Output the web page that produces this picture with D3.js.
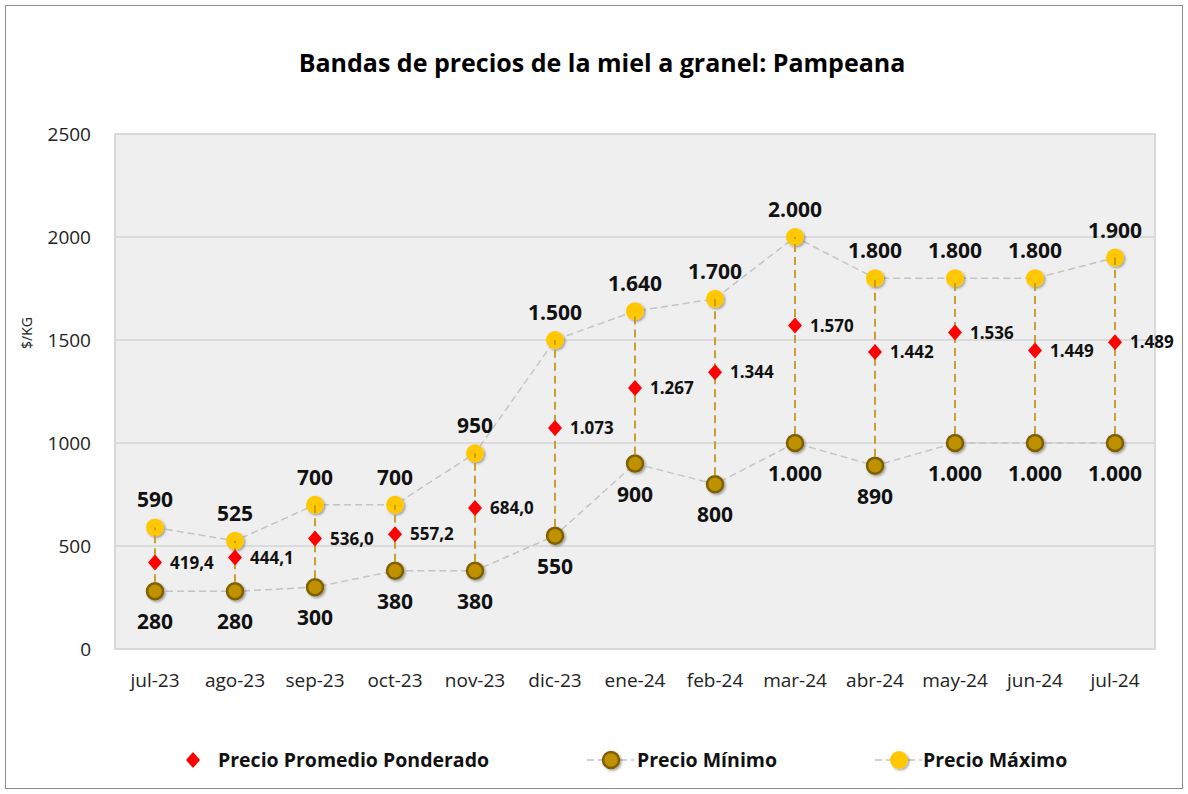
<!DOCTYPE html>
<html><head><meta charset="utf-8">
<script src="https://cdn.jsdelivr.net/npm/d3@7"></script>
<style>body{margin:0;background:#fff;} svg{display:block;}</style>
</head><body>
<svg id="c" width="1188" height="794"></svg>
<script>
const categories = ["jul-23","ago-23","sep-23","oct-23","nov-23","dic-23","ene-24","feb-24","mar-24","abr-24","may-24","jun-24","jul-24"];
const precioPromedio = [419.4,444.1,536.0,557.2,684.0,1073,1267,1344,1570,1442,1536,1449,1489];
const precioMinimo = [280,280,300,380,380,550,900,800,1000,890,1000,1000,1000];
const precioMaximo = [590,525,700,700,950,1500,1640,1700,2000,1800,1800,1800,1900];
const yTicks = [0,500,1000,1500,2000,2500];

const font = "'Open Sans', 'Noto Sans', sans-serif";
const svg = d3.select("#c");
const defs = svg.append("defs");
const f = defs.append("filter").attr("id","sh").attr("x","-50%").attr("y","-50%").attr("width","200%").attr("height","200%");
f.append("feDropShadow").attr("dx",1.5).attr("dy",1.5).attr("stdDeviation",1.2).attr("flood-color","#000").attr("flood-opacity",0.35);

svg.append("rect").attr("x",5.5).attr("y",5.5).attr("width",1177).attr("height",783).attr("fill","#fff").attr("stroke","#8c8c8c").attr("stroke-width",1);

const m = {l:115,r:1155,t:134,b:649};
const x = d3.scaleBand().domain(categories).range([m.l,m.r]);
const y = d3.scaleLinear().domain([0,2500]).range([m.b,m.t]);
const cx = d => x(d)+x.bandwidth()/2;

svg.append("rect").attr("x",m.l).attr("y",m.t).attr("width",m.r-m.l).attr("height",m.b-m.t).attr("fill","#efefef").attr("stroke","#d0d0d0").attr("stroke-width",1.5);

// gridlines
svg.append("g").selectAll("line").data(yTicks.slice(1,-1)).join("line")
  .attr("x1",m.l).attr("x2",m.r).attr("y1",d=>y(d)).attr("y2",d=>y(d))
  .attr("stroke","#d4d4d4").attr("stroke-width",1.5);

// title
svg.append("text").attr("x",602).attr("y",72).attr("text-anchor","middle")
  .attr("font-family",font).attr("font-weight","bold").attr("font-size",25).attr("fill","#000")
  .text("Bandas de precios de la miel a granel: Pampeana");

// y axis
const yAxis = d3.axisLeft(y).tickValues(yTicks).tickFormat(d3.format("d")).tickSize(0).tickPadding(0);
const ga = svg.append("g").attr("transform",`translate(91,0)`).call(yAxis);
ga.select(".domain").remove();
ga.selectAll("text").attr("font-family",font).attr("font-size",19).attr("fill","#222").attr("dy","0.35em");

svg.append("text").attr("transform","translate(32,333) rotate(-90)").attr("text-anchor","middle")
  .attr("font-family",font).attr("font-size",14).attr("fill","#222").text("$/KG");

// x axis
const xAxis = d3.axisBottom(x).tickSize(0).tickPadding(0);
const gx = svg.append("g").attr("transform",`translate(0,${m.b+23})`).call(xAxis);
gx.select(".domain").remove();
gx.selectAll("text").attr("font-family",font).attr("font-size",19).attr("fill","#222").attr("dy","0.8em");

// series lines
const line = arr => d3.line().x((d,i)=>cx(categories[i])).y(d=>y(d))(arr);
[precioMinimo,precioMaximo].forEach(arr=>{
  svg.append("path").attr("d",line(arr)).attr("fill","none").attr("stroke","#c4c4c4").attr("stroke-width",1.5).attr("stroke-dasharray","7,4");
});

// min markers
svg.append("g").selectAll("circle").data(precioMinimo).join("circle")
  .attr("cx",(d,i)=>cx(categories[i])).attr("cy",d=>y(d)).attr("r",8)
  .attr("fill","#bf9000").attr("stroke","#7f6000").attr("stroke-width",2.5).attr("filter","url(#sh)");
// max markers
svg.append("g").selectAll("circle").data(precioMaximo).join("circle")
  .attr("cx",(d,i)=>cx(categories[i])).attr("cy",d=>y(d)).attr("r",9)
  .attr("fill","#ffc800").attr("filter","url(#sh)");

// high-low lines
svg.append("g").selectAll("line").data(categories).join("line")
  .attr("x1",d=>cx(d)).attr("x2",d=>cx(d))
  .attr("y1",(d,i)=>y(precioMinimo[i])-9).attr("y2",(d,i)=>y(precioMaximo[i]))
  .attr("stroke","#c8961e").attr("stroke-width",1.8).attr("stroke-dasharray","8,5");

// avg diamonds
const diamond = "M0,-8L7,0L0,8L-7,0Z";
svg.append("g").selectAll("path").data(precioPromedio).join("path")
  .attr("transform",(d,i)=>`translate(${cx(categories[i])},${y(d)})`).attr("d",diamond).attr("fill","#ff0000");

const fmtInt = v => d3.format(",")(v).replace(/,/g,".");
const fmtAvg = v => v < 1000 ? v.toFixed(1).replace(".",",") : fmtInt(Math.round(v));

svg.append("g").selectAll("text").data(precioMaximo).join("text")
  .attr("x",(d,i)=>cx(categories[i])).attr("y",d=>y(d)-20).attr("text-anchor","middle")
  .attr("font-family",font).attr("font-weight","bold").attr("font-size",21).attr("fill","#111").text(fmtInt);
svg.append("g").selectAll("text").data(precioMinimo).join("text")
  .attr("x",(d,i)=>cx(categories[i])).attr("y",d=>y(d)+38).attr("text-anchor","middle")
  .attr("font-family",font).attr("font-weight","bold").attr("font-size",21).attr("fill","#111").text(fmtInt);
svg.append("g").selectAll("text").data(precioPromedio).join("text")
  .attr("x",(d,i)=>cx(categories[i])+15).attr("y",d=>y(d)+6).attr("text-anchor","start")
  .attr("font-family",font).attr("font-weight","bold").attr("font-size",17).attr("fill","#111").text(fmtAvg);

// legend
const lg = svg.append("g").attr("font-family",font).attr("font-weight","bold").attr("font-size",19.5).attr("fill","#111");
lg.append("path").attr("transform","translate(193,760)").attr("d",diamond).attr("fill","#ff0000");
lg.append("text").attr("x",218).attr("y",767).text("Precio Promedio Ponderado");
lg.append("line").attr("x1",587).attr("x2",634).attr("y1",760).attr("y2",760).attr("stroke","#c4c4c4").attr("stroke-width",1.5).attr("stroke-dasharray","7,4");
lg.append("circle").attr("cx",611).attr("cy",760).attr("r",8).attr("fill","#bf9000").attr("stroke","#7f6000").attr("stroke-width",2.5).attr("filter","url(#sh)");
lg.append("text").attr("x",637).attr("y",767).text("Precio Mínimo");
lg.append("line").attr("x1",875).attr("x2",922).attr("y1",760).attr("y2",760).attr("stroke","#c4c4c4").attr("stroke-width",1.5).attr("stroke-dasharray","7,4");
lg.append("circle").attr("cx",899).attr("cy",760).attr("r",9).attr("fill","#ffc800").attr("filter","url(#sh)");
lg.append("text").attr("x",923).attr("y",767).text("Precio Máximo");
</script>
</body></html>
